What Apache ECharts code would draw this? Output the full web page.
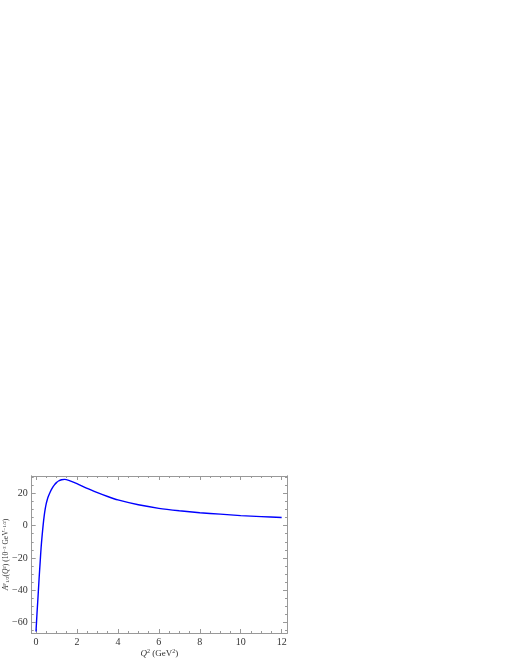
<!DOCTYPE html>
<html><head><meta charset="utf-8">
<script src="https://cdn.jsdelivr.net/npm/echarts@6/dist/echarts.min.js"></script>
<style>html,body{margin:0;padding:0;background:#fff}#c{width:510px;height:660px}</style>
</head><body><div id="c"></div>
<script>
var q2 = [0, 0.05, 0.1, 0.15, 0.2, 0.25, 0.3, 0.35, 0.4, 0.45, 0.5, 0.55, 0.6, 0.7, 0.8, 0.9, 1.0, 1.1, 1.25, 1.4, 1.6, 2.0, 2.5, 3, 3.5, 4, 5, 6, 7, 8, 9, 10, 11, 12];
var amp = [-65.5, -54, -43.8, -33, -23.2, -13.5, -6, 0.5, 6, 10.3, 13.6, 16, 18, 21, 23.4, 25.2, 26.6, 27.6, 28.4, 28.6, 28.0, 26, 23, 20.4, 18, 15.9, 12.9, 10.7, 9.2, 8.0, 7.1, 6.2, 5.6, 5.0];
var xMajor = [0, 2, 4, 6, 8, 10, 12];
var xMinor = [0, 0.5, 1, 1.5, 2, 2.5, 3, 3.5, 4, 4.5, 5, 5.5, 6, 6.5, 7, 7.5, 8, 8.5, 9, 9.5, 10, 10.5, 11, 11.5, 12];
var yMajor = [-60, -40, -20, 0, 20];
var yMinor = [-65, -60, -55, -50, -45, -40, -35, -30, -25, -20, -15, -10, -5, 0, 5, 10, 15, 20, 25, 30];

var xMin = -0.21, xMax = 12.26, yMin = -66.4, yMax = 30.7;
var frame = '#999999';
var font = 'Liberation Serif';
function fmt(v){ return String(v).replace('-', '\u2212'); }

function xAx(pos, vals, len, labels, extra){
  var o = {type:'value', position:pos, min:xMin, max:xMax, splitLine:{show:false},
    axisLine:{show:true, onZero:false, lineStyle:{color:frame, width:1}},
    axisTick:{show:true, inside:true, length:len, customValues:vals, lineStyle:{color:frame}},
    axisLabel:{show:labels, customValues:vals, formatter:fmt, fontFamily:font, fontSize:10, color:'#333', margin:4}};
  return Object.assign(o, extra||{});
}
function yAx(pos, vals, len, labels, extra){
  var o = {type:'value', position:pos, min:yMin, max:yMax, splitLine:{show:false},
    axisLine:{show:true, onZero:false, lineStyle:{color:frame, width:1}},
    axisTick:{show:true, inside:true, length:len, customValues:vals, lineStyle:{color:frame}},
    axisLabel:{show:labels, customValues:vals, formatter:fmt, fontFamily:font, fontSize:10, color:'#333', margin:4}};
  return Object.assign(o, extra||{});
}

var chart = echarts.init(document.getElementById('c'));
chart.setOption({
  animation:false,
  grid:{left:31.7, right:223, top:476, bottom:27, containLabel:false, outerBoundsMode:'none'},
  xAxis:[
    xAx('bottom', xMajor, 4, true, {name:'{i|Q}{s|2} (GeV{s|2})', nameLocation:'middle', nameGap:15, nameMoveOverlap:false,
      nameTextStyle:{fontFamily:font, fontSize:9, color:'#333', rich:{i:{fontStyle:'italic', fontFamily:font, fontSize:9}, s:{fontSize:6, fontFamily:font, padding:[0,0,5,0]}}}}),
    xAx('bottom', xMinor, 2, false),
    xAx('top', xMajor, 4, false),
    xAx('top', xMinor, 2, false)
  ],
  yAxis:[
    yAx('left', yMajor, 4, true, {name:'{i|A}{s|P}{b|1/2}({i|Q}{s|2}) (10{s|\u22123} GeV{s|\u22121/2})', nameLocation:'middle', nameGap:21, nameRotate:90, nameMoveOverlap:false,
      nameTextStyle:{fontFamily:font, fontSize:7.5, color:'#333', rich:{i:{fontStyle:'italic', fontFamily:font, fontSize:7.5}, s:{fontSize:5, fontFamily:font, padding:[0,0,4,0]}, b:{fontSize:5, fontFamily:font, padding:[3,0,0,0]}}}}),
    yAx('left', yMinor, 2, false),
    yAx('right', yMajor, 4, false),
    yAx('right', yMinor, 2, false)
  ],
  series:[{type:'line', xAxisIndex:0, yAxisIndex:0, data:q2.map(function(x,i){return [x, amp[i]];}),
    showSymbol:false, smooth:0.25, lineStyle:{color:'#0000ff', width:1.4}}]
});
</script></body></html>
